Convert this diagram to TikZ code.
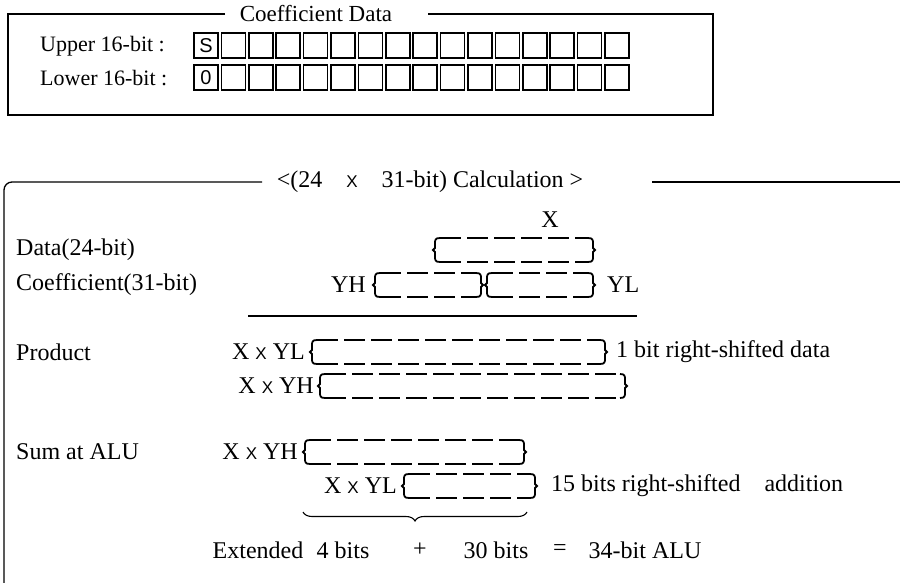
\documentclass[tikz,border=0pt]{standalone}
\usepackage{fontspec}
\setmainfont{Liberation Serif}
\setsansfont{Liberation Sans}
\usetikzlibrary{decorations.pathreplacing}

% small sans multiplication sign
\newcommand{\tms}{{\fontsize{17}{17}\sffamily X}}

% register: bracket ends and dashed top/bottom
\newcommand{\regbox}[3]{%
  \begin{scope}[shift={(#1,#3)}]
    \draw[regend] (7,-12) .. controls (2,-12) and (2,-10) .. (2,-6) -- (2,-2) -- (0,0) -- (2,2) -- (2,6) .. controls (2,10) and (2,12) .. (7,12);
  \end{scope}
  \begin{scope}[shift={(#2,#3)}]
    \draw[regend] (-7,-12) .. controls (-2,-12) and (-2,-10) .. (-2,-6) -- (-2,-2) -- (0,0) -- (-2,2) -- (-2,6) .. controls (-2,10) and (-2,12) .. (-7,12);
  \end{scope}
  \draw[regline] (#1+7,#3-12) -- (#2-7,#3-12);
  \draw[regline] (#1+7,#3+12) -- (#2-7,#3+12);
}

\begin{document}
\begin{tikzpicture}[x=1pt,y=-1pt,
    frame/.style={line width=1.3pt},
    bitcell/.style={line width=1.7pt},
    regend/.style={line width=1.8pt},
    regline/.style={line width=1.8pt,dash pattern=on 21pt off 6pt},
    rule/.style={line width=1.1pt},
    toptxt/.style={inner sep=0pt,font=\fontsize{22}{24}\selectfont},
    txt/.style={inner sep=0pt,font=\fontsize{24}{26}\selectfont},
    bitchar/.style={inner sep=0pt,font=\fontsize{20}{20}\sffamily}]
\useasboundingbox (0,0) rectangle (900,583);

            % coefficient data box
            \draw[frame] (225,14) -- (8,14) -- (8,115) -- (713,115) -- (713,14) -- (428,14);
            \node[toptxt,font=\fontsize{23}{25}\selectfont] (coefdata) at (316,14) {Coefficient Data};
            \node[toptxt,anchor=west] (upper) at (40,46) {Upper 16-bit :};
            \node[toptxt,anchor=west] (lower) at (40,78) {Lower 16-bit :};
            \foreach \i in {0,...,15} {
                \draw[bitcell] (194+\i*27.4,33) rectangle ++(24,25);
                \draw[bitcell] (194+\i*27.4,65) rectangle ++(24,25);
            }
            \node[bitchar] (sign) at (206,45.5) {S};
            \node[bitchar] (zero) at (206,77.5) {0};

            % calculation box
            \draw[frame,rounded corners=8pt] (262,182) -- (4,182) -- (4,583);
            \draw[frame] (652,182) -- (900,182);
            \node[txt] (calc) at (430,182) {<(24\quad\tms\quad 31-bit) Calculation >};

            \node[txt] (xlab) at (550,220) {X};
            \node[txt,anchor=west] (datalab) at (16,250) {Data(24-bit)};
            \regbox{433}{595}{250}
            \node[txt,anchor=west] (coeflab) at (16,285) {Coefficient(31-bit)};
            \node[txt,anchor=east] (yh) at (366,285) {YH};
            \regbox{373}{483}{285}
            \regbox{485}{595}{285}
            \node[txt,anchor=west] (yl) at (607,285) {YL};
            \draw[rule] (248,316) -- (637,316);

            \node[txt,anchor=west] (prodlab) at (16,352) {Product};
            \node[txt,anchor=east] (xyl1) at (305,352) {X \tms\ YL};
            \regbox{310}{607}{352}
            \node[txt,anchor=west] (shift1) at (616,352) {1 bit right-shifted data};
            \node[txt,anchor=east] (xyh1) at (314,386) {X \tms\ YH};
            \regbox{318}{627}{386}

            \node[txt,anchor=west] (sumlab) at (16,452) {Sum at ALU};
            \node[txt,anchor=east] (xyh2) at (298,452) {X \tms\ YH};
            \regbox{303}{526}{452}
            \node[txt,anchor=east] (xyl2) at (397,486) {X \tms\ YL};
            \regbox{402}{537}{486}
            \node[txt,anchor=west] (shift15) at (551,486) {15 bits right-shifted\quad addition};
            \draw[rule,decorate,decoration={brace,mirror,amplitude=9pt}] (303,512) -- (527,512);

            \node[txt] (ext) at (258,550) {Extended};
            \node[txt] (four) at (343,550) {4 bits};
            \node[txt] (plus) at (420,550) {+};
            \node[txt] (thirty) at (496,550) {30 bits};
            \node[txt] (eq) at (560,550) {=};
            \node[txt] (alu) at (645,550) {34-bit ALU};
\end{tikzpicture}
\end{document}
